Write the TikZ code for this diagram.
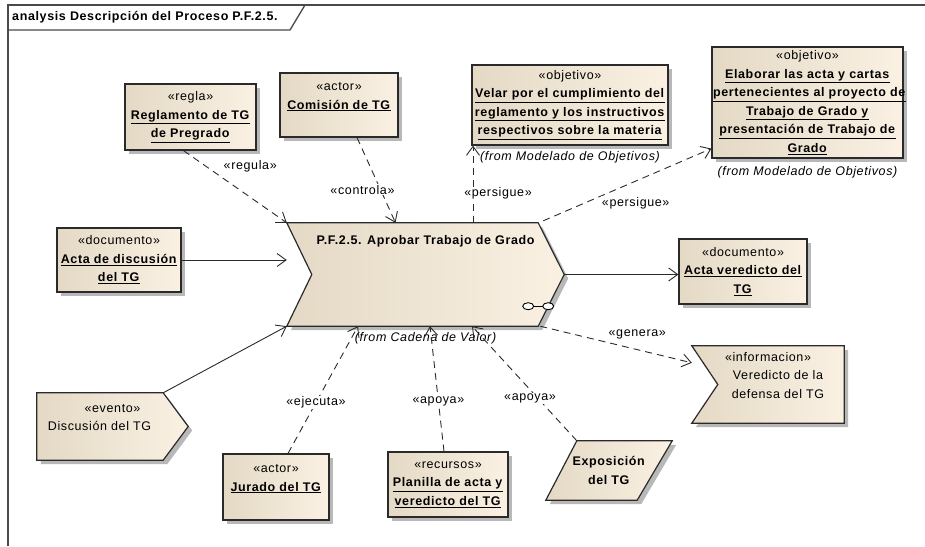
\documentclass[tikz,border=0pt]{standalone}
\usepackage{fontspec}
\setmainfont{Liberation Sans}[LetterSpace=5]
\usepackage{xcolor}
\usepackage{tikz}
\usetikzlibrary{arrows.meta,positioning,calc,backgrounds,shadows}
\definecolor{SketchFillL}{HTML}{E4D9C5}
\definecolor{SketchFillR}{HTML}{FAF1E3}
\definecolor{SketchEdge}{HTML}{2A2A2A}
\definecolor{SketchShadow}{HTML}{B8B8B8}
\definecolor{SketchFrame}{HTML}{4A4A4A}
\tikzset{
  eatext/.style={font=\fontsize{12.5}{18.5}\selectfont, align=center},
  heading/.style={font=\fontsize{12.5}{14}\selectfont\bfseries, inner sep=0pt},
  element/.style={eatext, draw=SketchEdge, line width=1.2pt, inner xsep=1pt,
    left color=SketchFillL, right color=SketchFillR,
    drop shadow={shadow xshift=4pt, shadow yshift=-4pt, fill=SketchShadow, opacity=1}},
  holder/.style={eatext, inner sep=0pt},
  outline/.style={draw=SketchEdge, line width=1.2pt, line join=miter,
    left color=SketchFillL, right color=SketchFillR,
    drop shadow={shadow xshift=4pt, shadow yshift=-4pt, fill=SketchShadow, opacity=1}},
  link/.style={-{Straight Barb[length=9pt, width=13pt]}, line width=0.9pt, draw=SketchEdge},
  deplink/.style={link, dash pattern=on 7pt off 5pt},
  tag/.style={eatext, fill=white, inner sep=1pt},
  origin/.style={font=\fontsize{12.5}{14}\selectfont\itshape, inner sep=0pt},
  frame/.style={draw=SketchFrame, line width=1.3pt}
}
\newcommand{\stereo}[1]{«#1»}
\newcommand{\elname}[1]{\underline{\textbf{#1}}}

\begin{document}
\begin{tikzpicture}[x=1pt, y=-1pt]
  \useasboundingbox (0,0) rectangle (925,546);
  \draw[frame] (8,546) -- (8,5) -- (925,5);
  \draw[frame] (8,30) -- (290,30) -- (305,5);
  \node[heading, anchor=west] (diagram) at (12,17.5) {analysis Descripción del Proceso P.F.2.5.};

  \node[element, minimum width=131pt, minimum height=66pt] (regla) at (190.5,117)
    {\stereo{regla}\\\elname{Reglamento de TG}\\\elname{de Pregrado}};
  \node[element, minimum width=118pt, minimum height=64pt] (comision) at (339,105)
    {\stereo{actor}\\\elname{Comisión de TG}\\{}};
  \node[element, minimum width=196pt, minimum height=80pt, text width=194pt] (velar) at (570,105)
    {\stereo{objetivo}\\\elname{Velar por el cumplimiento del}\\\elname{reglamento y los instructivos}\\\elname{respectivos sobre la materia}};
  \node[origin] (velarfrom) at ([yshift=-12pt]velar.south) {(from Modelado de Objetivos)};
  \node[element, minimum width=191pt, minimum height=111pt, text width=189pt] (elaborar) at (807.5,102.5)
    {\stereo{objetivo}\\\elname{Elaborar las acta y cartas}\\\elname{pertenecientes al proyecto de}\\\elname{Trabajo de Grado y}\\\elname{presentación de Trabajo de}\\\elname{Grado}};
  \node[origin] (elaborarfrom) at ([yshift=-14pt]elaborar.south) {(from Modelado de Objetivos)};
  \node[element, minimum width=124pt, minimum height=64pt] (actadisc) at (119,260)
    {\stereo{documento}\\\elname{Acta de discusión}\\\elname{del TG}};
  \node[holder, minimum width=277pt, minimum height=103pt] (proc) at (425.5,274.5) {};
  \node[heading] (proctitle) at ([yshift=-18pt]proc.north) {P.F.2.5. Aprobar Trabajo de Grado};
  \node[origin] (procfrom) at ([yshift=-12pt]proc.south) {(from Cadena de Valor)};
  \node[element, minimum width=128pt, minimum height=65pt] (actaver) at (743,271.5)
    {\stereo{documento}\\\elname{Acta veredicto del}\\\elname{TG}};
  \node[holder, minimum width=152pt, minimum height=77pt] (info) at (768,384.5)
    {\stereo{informacion}\\\hspace*{20pt}Veredicto de la\\\hspace*{20pt}defensa del TG\\{}};
  \node[holder, minimum width=151pt, minimum height=67pt] (evento) at (112.5,426.5)
    {\stereo{evento}\\\hspace*{-26pt}Discusión del TG\\{}};
  \node[element, minimum width=106pt, minimum height=66pt] (jurado) at (276,487)
    {\stereo{actor}\\\elname{Jurado del TG}\\{}};
  \node[element, minimum width=120pt, minimum height=65pt] (planilla) at (448,484.5)
    {\stereo{recursos}\\\elname{Planilla de acta y}\\\elname{veredicto del TG}};
  \node[holder, minimum width=126pt, minimum height=59pt] (expo) at (609,470.5)
    {\textbf{Exposición}\\\textbf{del TG}};

  \begin{scope}[on background layer]
    \path[outline] (proc.north west) -- ([xshift=-26pt]proc.north east) -- (proc.east)
      -- ([xshift=-26pt]proc.south east) -- (proc.south west) -- ([xshift=25pt]proc.west) -- cycle;
    \path[outline] (info.north west) -- (info.north east) -- (info.south east)
      -- (info.south west) -- ([xshift=26pt]info.west) -- cycle;
    \path[outline] (evento.north west) -- ([xshift=-25pt]evento.north east) -- (evento.east)
      -- ([xshift=-25pt]evento.south east) -- (evento.south west) -- cycle;
    \path[outline] ([xshift=31pt]expo.north west) -- (expo.north east)
      -- ([xshift=-35pt]expo.south east) -- (expo.south west) -- cycle;
  \end{scope}
  \draw[line width=0.9pt] ([xshift=-36pt, yshift=20pt]proc.south east) -- ([xshift=-16pt, yshift=20pt]proc.south east);
  \draw[line width=0.9pt, fill=white] ([xshift=-36pt, yshift=20pt]proc.south east) ellipse [x radius=5.5, y radius=3.5];
  \draw[line width=0.9pt, fill=white] ([xshift=-16pt, yshift=20pt]proc.south east) ellipse [x radius=5.5, y radius=3.5];

  \coordinate (seek) at ([xshift=47.5pt]proc.north);
  \draw[deplink] ([xshift=-7pt]regla.south) -- node[tag, pos=.22, xshift=44pt]{\stereo{regula}} (proc.north west);
  \draw[deplink] ([xshift=18pt]comision.south) -- node[tag, pos=.61, xshift=-18pt]{\stereo{controla}} ([xshift=-30pt]proc.north);
  \draw[link] (actadisc.east) -- (actadisc.east -| proc.west);
  \draw[deplink] (seek) -- node[tag, pos=.38, xshift=25pt]{\stereo{persigue}} (seek |- velar.south);
  \draw[deplink] ([xshift=-21pt, yshift=2pt]proc.north east) -- node[tag, pos=.55, yshift=-22pt]{\stereo{persigue}} ([yshift=10pt]elaborar.south west);
  \draw[link] (proc.east) -- (proc.east -| actaver.west);
  \draw[deplink] ([xshift=-24pt]proc.south east) -- node[tag, pos=.64, yshift=15pt]{\stereo{genera}} ([yshift=-17pt]info.north west);
  \draw[link] ([xshift=-25pt]evento.north east) -- (proc.south west);
  \draw[deplink] ([xshift=12pt]jurado.north) -- node[tag, pos=.4]{\stereo{ejecuta}} ([xshift=-67.5pt]proc.south);
  \draw[deplink] ([xshift=-4pt]planilla.north) -- node[tag, pos=.4]{\stereo{apoya}} ([xshift=4.5pt]proc.south);
  \draw[deplink] ([xshift=31pt]expo.north west) -- node[tag, pos=.37, xshift=-8pt]{\stereo{apoya}} ([xshift=46.5pt]proc.south);
\end{tikzpicture}
\end{document}
